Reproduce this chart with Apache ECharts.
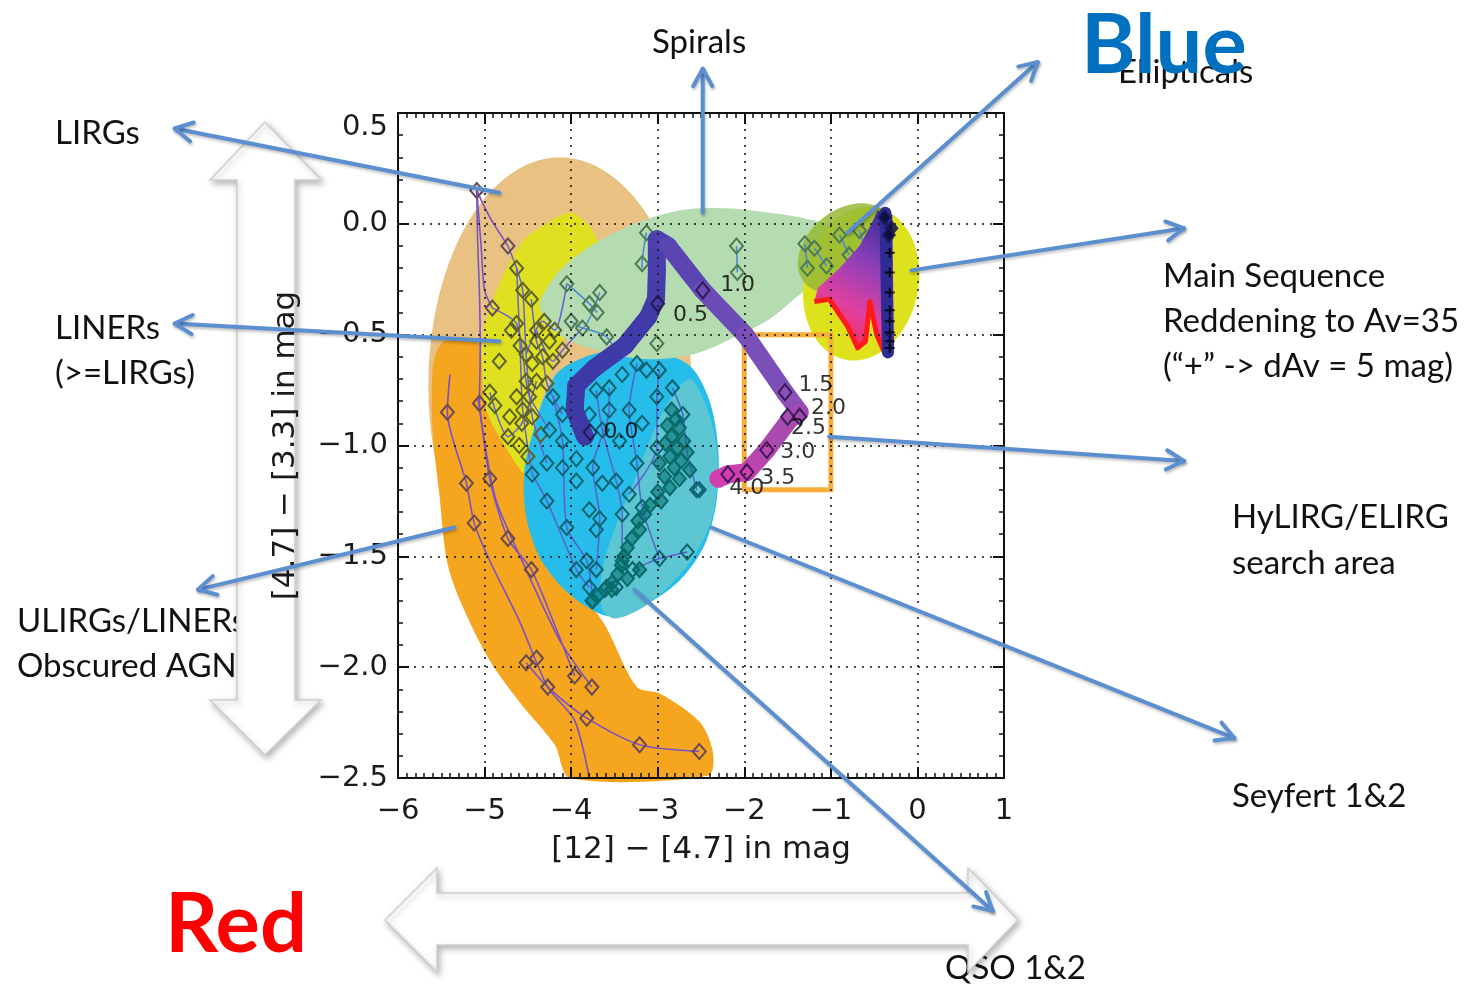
<!DOCTYPE html>
<html>
<head>
<meta charset="utf-8">
<title>WISE colour–colour diagram</title>
<script src="https://cdn.jsdelivr.net/npm/echarts@6.0.0/dist/echarts.min.js"></script>
<style>
html,body{margin:0;padding:0;background:#ffffff;}
#chart{width:1474px;height:984px;}
</style>
</head>
<body>
<div id="chart"></div>
<script>
// ---- axes: x = [12]-[4.7], y = [4.7]-[3.3] (mag) ----
const xRange = [-6, 1];
const yRange = [-2.5, 0.5];
const xStep = 1;
const yStep = 0.5;

// ---- population zones ----
const lirgEllipse = [-4.13, -0.73, 1.52, 1.03];          // centre x, centre y, half-width, half-height
const ulirgRegion = [[-5.34,-0.51],[-5.07,-0.54],[-4.98,-0.84],[-4.52,-1.13],[-4.25,-1.38],[-3.90,-1.65],[-3.61,-1.81],[-3.24,-2.09],[-2.97,-2.12],[-2.51,-2.25],[-2.36,-2.39],[-2.42,-2.49],[-4.01,-2.50],[-4.19,-2.35],[-4.59,-2.16],[-4.94,-1.97],[-5.25,-1.73],[-5.43,-1.53],[-5.52,-1.23],[-5.60,-0.93],[-5.60,-0.66],[-5.52,-0.55]];
const linerRegion = [[-4.00,0.05],[-3.79,-0.01],[-3.67,-0.12],[-3.79,-0.30],[-4.13,-0.55],[-4.31,-0.75],[-4.45,-0.98],[-4.52,-1.13],[-4.77,-1.00],[-4.98,-0.84],[-5.03,-0.66],[-5.01,-0.48],[-4.83,-0.27],[-4.56,-0.08],[-4.25,0.01]];
const seyfertRegion = [[-4.13,-0.66],[-3.67,-0.58],[-3.09,-0.57],[-2.63,-0.64],[-2.40,-0.80],[-2.30,-1.02],[-2.32,-1.25],[-2.46,-1.45],[-2.75,-1.61],[-3.15,-1.72],[-3.56,-1.77],[-3.85,-1.72],[-4.13,-1.63],[-4.37,-1.50],[-4.52,-1.32],[-4.54,-1.11],[-4.42,-0.91],[-4.31,-0.78]];
const qsoRegion = [[-2.63,-0.70],[-2.46,-0.80],[-2.33,-0.98],[-2.31,-1.16],[-2.38,-1.34],[-2.58,-1.50],[-2.86,-1.63],[-3.21,-1.74],[-3.50,-1.78],[-3.64,-1.74],[-3.64,-1.56],[-3.50,-1.38],[-3.27,-1.16],[-3.04,-0.93],[-2.84,-0.78]];
const spiralRegion = [[-4.36,-0.38],[-4.28,-0.29],[-4.08,-0.19],[-3.73,-0.09],[-3.27,0.00],[-2.75,0.06],[-2.23,0.07],[-1.71,0.05],[-1.25,0.02],[-0.92,-0.02],[-0.84,-0.10],[-0.96,-0.20],[-1.30,-0.30],[-1.71,-0.43],[-2.06,-0.50],[-2.52,-0.58],[-2.98,-0.61],[-3.38,-0.60],[-3.79,-0.56],[-4.13,-0.50]];
const ellipticalEllipse = [-0.65, -0.27, 0.66, 0.35];
const ellipticalCore = [-0.83, -0.11, 0.62, 0.17];
const reddeningFan = [[-0.46,0.06],[-0.29,0.04],[-0.27,-0.58],[-0.38,-0.58],[-0.47,-0.50],[-0.55,-0.35],[-0.60,-0.53],[-0.69,-0.56],[-0.81,-0.46],[-1.02,-0.34],[-1.19,-0.35],[-1.15,-0.29],[-0.90,-0.20],[-0.67,-0.10],[-0.53,0.00]];
const reddeningEdge = [[-1.19,-0.35],[-1.02,-0.34],[-0.81,-0.46],[-0.69,-0.56],[-0.60,-0.53],[-0.55,-0.35],[-0.47,-0.50],[-0.38,-0.58]];
const mainSequence = [[-0.37,0.05],[-0.34,-0.58]];
const reddeningSteps = [[-0.32,-0.13],[-0.32,-0.22],[-0.32,-0.31],[-0.32,-0.39],[-0.32,-0.44],[-0.32,-0.49],[-0.32,-0.53],[-0.32,-0.56]];
const searchBox = [[-2, -0.5], [-1, -1.2]];

// ---- template tracks and their diamonds ----
const ulirgTracks = [
  [[-5.40,-0.68],[-5.43,-0.85],[-5.21,-1.17],[-5.12,-1.35],[-4.94,-1.52],[-4.60,-1.79],[-4.27,-2.09],[-3.96,-2.24],[-3.79,-2.50]],
  [[-5.06,-0.81],[-4.94,-1.15],[-4.73,-1.42],[-4.46,-1.56],[-4.19,-1.81],[-3.96,-2.04]],
  [[-5.08,-0.78],[-4.88,-1.23],[-4.59,-1.50],[-4.13,-1.88],[-3.76,-2.09]],
  [[-4.52,-1.98],[-4.27,-2.09],[-3.82,-2.23],[-3.21,-2.35],[-2.52,-2.38]],
  [[-5.09,0.15],[-5.08,-0.08],[-5.06,-0.30],[-5.05,-0.55],[-5.06,-0.81]],
  [[-5.09,0.15],[-4.94,0.03],[-4.73,-0.10]],
  [[-5.09,0.15],[-5.04,-0.10],[-5.00,-0.30],[-4.91,-0.38]]
];
const ulirgDiamonds = [[-5.43,-0.85],[-5.21,-1.17],[-5.12,-1.35],[-5.06,-0.81],[-4.94,-1.15],[-4.73,-1.42],[-4.46,-1.56],[-4.52,-1.98],[-4.40,-1.96],[-4.27,-2.09],[-3.96,-2.04],[-3.76,-2.09],[-3.82,-2.23],[-3.21,-2.35],[-2.52,-2.38],[-5.09,0.15],[-4.73,-0.10],[-4.91,-0.38]];
const linerTracks = [
  [[-4.73,-0.10],[-4.63,-0.20],[-4.56,-0.30],[-4.52,-0.59],[-4.45,-0.87],[-4.28,-1.08]],
  [[-4.91,-0.38],[-4.63,-0.45],[-4.52,-0.71],[-4.48,-0.78],[-4.25,-0.93]],
  [[-4.63,-0.20],[-4.59,-0.55],[-4.56,-0.84],[-4.45,-1.13]],
  [[-4.46,-0.34],[-4.40,-0.53],[-4.33,-0.60],[-4.28,-0.72],[-4.10,-0.86]],
  [[-4.40,-0.48],[-4.21,-0.62],[-4.10,-0.57],[-3.87,-0.47]],
  [[-4.94,-0.76],[-4.73,-0.96],[-4.57,-0.90],[-4.40,-0.71]],
  [[-4.52,-0.59],[-4.33,-0.44],[-4.19,-0.48],[-4.05,-0.27]]
];
const linerDiamonds = [[-4.94,-0.76],[-4.88,-0.82],[-4.73,-0.96],[-4.57,-0.90],[-4.56,-0.84],[-4.48,-0.78],[-4.52,-0.71],[-4.45,-0.63],[-4.33,-0.60],[-4.21,-0.62],[-4.52,-0.59],[-4.10,-0.57],[-4.40,-0.71],[-4.28,-0.72],[-4.63,-0.78],[-4.71,-0.87],[-4.45,-0.87],[-4.40,-0.53],[-4.25,-0.53],[-4.63,-0.20],[-4.56,-0.30],[-4.46,-0.34],[-4.63,-0.45],[-4.40,-0.48],[-4.69,-0.48],[-4.31,-0.44],[-4.19,-0.48],[-4.59,-0.55],[-4.83,-0.62],[-4.60,-1.00],[-4.35,-0.95],[-4.50,-1.05]];
const spiralTracks = [
  [[-4.05,-0.27],[-3.79,-0.36],[-3.70,-0.40]],
  [[-3.67,-0.31],[-3.87,-0.47],[-4.00,-0.44]],
  [[-3.13,-0.04],[-3.18,-0.18],[-3.18,-0.20]],
  [[-2.09,-0.10],[-2.08,-0.22]],
  [[-1.30,-0.09],[-1.27,-0.20]],
  [[-1.19,-0.11],[-1.05,-0.19]],
  [[-3.87,-0.47],[-3.59,-0.51],[-3.44,-0.62]],
  [[-0.90,-0.05],[-0.79,-0.14]],
  [[-0.67,-0.03],[-0.58,-0.14]]
];
const spiralDiamonds = [[-4.05,-0.27],[-3.79,-0.36],[-3.70,-0.40],[-3.67,-0.31],[-3.87,-0.47],[-4.00,-0.44],[-3.13,-0.04],[-3.18,-0.18],[-2.09,-0.10],[-2.08,-0.22],[-1.30,-0.09],[-1.27,-0.20],[-1.19,-0.11],[-1.05,-0.19],[-3.59,-0.51],[-3.01,-0.54],[-0.90,-0.05],[-0.79,-0.14],[-0.67,-0.03],[-0.58,-0.14]];
const ellipticalMarks = [[-0.38,0.03],[-0.30,-0.02],[-0.33,-0.05]];
const seyfertTracks = [
  [[-4.21,-0.78],[-4.10,-0.98],[-4.05,-1.37],[-3.82,-1.52],[-3.75,-1.70]],
  [[-3.71,-0.75],[-3.64,-0.93],[-3.48,-1.16],[-3.41,-1.31],[-3.41,-1.52]],
  [[-3.24,-0.63],[-3.33,-0.84],[-3.24,-1.08],[-3.18,-1.28],[-2.98,-1.51]],
  [[-2.83,-0.74],[-2.71,-0.86],[-2.66,-1.03],[-2.55,-1.20]],
  [[-4.45,-1.13],[-4.28,-1.25],[-3.94,-1.56],[-3.79,-1.64]],
  [[-3.56,-0.74],[-3.56,-0.84],[-3.75,-1.10],[-3.67,-1.33],[-3.71,-1.56]],
  [[-2.98,-0.66],[-3.01,-0.78],[-3.01,-1.01],[-3.33,-1.22]],
  [[-3.29,-1.56],[-2.98,-1.51],[-2.66,-1.48]]
];
const seyfertDiamonds = [[-4.21,-0.78],[-4.10,-0.86],[-4.25,-0.93],[-4.10,-0.98],[-4.28,-1.08],[-4.45,-1.13],[-4.10,-1.10],[-3.94,-1.16],[-4.28,-1.25],[-4.05,-1.37],[-3.79,-1.29],[-3.79,-0.86],[-3.71,-0.75],[-3.56,-0.74],[-3.41,-0.68],[-3.24,-0.63],[-3.13,-0.66],[-2.98,-0.66],[-2.83,-0.74],[-3.01,-0.78],[-3.33,-0.84],[-3.56,-0.84],[-3.64,-0.93],[-3.44,-0.98],[-3.24,-1.08],[-3.64,-1.17],[-3.75,-1.10],[-3.48,-1.16],[-3.41,-1.31],[-3.67,-1.33],[-3.71,-1.38],[-3.33,-1.22],[-3.18,-1.28],[-2.55,-1.20],[-3.01,-1.01],[-2.71,-0.86],[-3.18,-0.90],[-3.94,-1.06],[-3.82,-1.52],[-3.71,-1.56],[-3.41,-1.52],[-2.98,-1.51],[-2.66,-1.48],[-3.94,-1.56],[-3.79,-1.64],[-3.75,-1.70],[-3.59,-1.64],[-3.48,-1.64],[-3.29,-1.56],[-2.52,-1.20]];
const qsoDiamonds = [[-2.84,-0.84],[-2.79,-0.88],[-2.89,-0.91],[-2.75,-0.92],[-2.84,-0.96],[-2.70,-0.98],[-2.91,-0.99],[-2.77,-1.01],[-2.66,-1.03],[-2.86,-1.05],[-2.73,-1.07],[-2.98,-1.08],[-2.81,-1.10],[-2.63,-1.11],[-2.92,-1.14],[-2.75,-1.15],[-2.86,-1.19],[-3.00,-1.21],[-2.96,-1.25],[-3.09,-1.27],[-3.15,-1.31],[-3.23,-1.34],[-3.21,-1.38],[-3.30,-1.42],[-3.35,-1.46],[-3.39,-1.50],[-3.42,-1.54],[-3.46,-1.58],[-3.53,-1.62],[-3.61,-1.65],[-3.70,-1.68],[-3.76,-1.70],[-3.53,-1.65],[-3.35,-1.60],[-3.21,-1.56]];

// ---- redshift track of the composite template ----
const trackPath = [[-3.84,-0.96],[-3.96,-0.84],[-3.94,-0.73],[-3.73,-0.65],[-3.38,-0.55],[-3.11,-0.42],[-3.02,-0.34],[-3.01,-0.21],[-3.01,-0.07],[-2.88,-0.10],[-2.48,-0.30],[-1.99,-0.50],[-1.53,-0.76],[-1.36,-0.85],[-1.47,-0.88],[-1.74,-1.02],[-1.97,-1.12],[-2.19,-1.13],[-2.30,-1.15]];
const trackColors = ['#3d3aa6','#3d3aa6','#3d3aa6','#3e3aa7','#403ba8','#423ca9','#463dab','#4a3ead','#4e40af','#5b45b2','#6b4bb6','#7a4fb8','#8c4fb6','#a04ab2','#a84aae','#b845b0','#cc40b0','#d23eaf'];
const redshiftPoints = [[-3.78,-0.94],[-3.00,-0.36],[-2.48,-0.30],[-1.53,-0.76],[-1.36,-0.87],[-1.50,-0.87],[-1.74,-1.02],[-1.97,-1.12],[-2.19,-1.13]];
const redshiftLabels = ['0.0','0.5','1.0','1.5','2.0','2.5','3.0','3.5','4.0'];
const redshiftLabelShift = [[4,0],[6,12],[8,-5],[4,-7],[2,-8],[-6,12],[4,2],[4,6],[-8,14]];

// ---- call-out pointers: from zone (x1,y1) to caption (x2,y2) ----
const pointers = [
  [-4.83, 0.14, -8.58, 0.43],
  [-4.83, -0.53, -8.58, -0.45],
  [-5.35, -1.37, -8.31, -1.65],
  [-2.48, 0.05, -2.48, 0.70],
  [-0.81, -0.04, 1.39, 0.73],
  [-0.07, -0.21, 3.08, -0.02],
  [-1.02, -0.96, 3.08, -1.07],
  [-2.38, -1.37, 3.66, -2.32],
  [-3.27, -1.65, 0.87, -3.10]
];

// ---------------------------------------------------------------
function polygonSeries(verts, style, z, smooth) {
  return {
    type: 'custom', coordinateSystem: 'cartesian2d', silent: true, z: z, clip: false,
    data: [verts[0]],
    renderItem: function (params, api) {
      return { type: 'polygon', shape: { points: verts.map(v => api.coord(v)), smooth: smooth || 0 }, style: style };
    }
  };
}
function ellipseSeries(e, tiltDeg, style, z) {
  return {
    type: 'custom', coordinateSystem: 'cartesian2d', silent: true, z: z, clip: false,
    data: [[e[0], e[1]]],
    renderItem: function (params, api) {
      const c = api.coord([e[0], e[1]]);
      const rx = api.size([e[2], 0])[0];
      const ry = api.size([0, e[3]])[1];
      const t = tiltDeg * Math.PI / 180;
      const pts = [];
      for (let k = 0; k < 90; k++) {
        const a = k / 90 * 2 * Math.PI;
        const ex = rx * Math.cos(a), ey = ry * Math.sin(a);
        pts.push([c[0] + ex * Math.cos(t) + ey * Math.sin(t), c[1] - ex * Math.sin(t) + ey * Math.cos(t)]);
      }
      return { type: 'polygon', shape: { points: pts }, style: style };
    }
  };
}
function polylineSeries(verts, style, z) {
  return {
    type: 'custom', coordinateSystem: 'cartesian2d', silent: true, z: z, clip: false,
    data: [verts[0]],
    renderItem: function (params, api) {
      return { type: 'polyline', shape: { points: verts.map(v => api.coord(v)) }, style: style };
    }
  };
}
function trackSeries(tracks, color, width, z) {
  return tracks.map(t => ({
    type: 'line', data: t, symbol: 'none', smooth: 0.25, silent: true, z: z,
    lineStyle: { color: color, width: width }
  }));
}
function diamondSeries(pts, border, fill, size, z) {
  return {
    type: 'scatter', data: pts, symbol: 'diamond', symbolSize: size, silent: true, z: z,
    itemStyle: { color: fill, borderColor: border, borderWidth: 2, opacity: 1 }
  };
}

const axisFont = 'DejaVu Sans';
function xFmt(v) { return (v < 0 ? '\u2212' : '') + Math.abs(v); }
function yFmt(v) { return (v < 0 ? '\u2212' : '') + Math.abs(v).toFixed(1); }

function frameAxis(isX, pos, primary, range, step, minor) {
  const ax = {
    type: 'value', min: range[0], max: range[1], interval: step, position: pos, z: 30,
    axisLine: { show: true, onZero: false, lineStyle: { color: '#111', width: 2 } },
    axisTick: { show: true, inside: true, length: 11, lineStyle: { color: '#111', width: 2 } },
    minorTick: { show: true, splitNumber: minor, length: 5, lineStyle: { color: '#111', width: 1.5 } },
    splitLine: { show: primary, lineStyle: { color: 'rgba(25,25,25,0.8)', width: 2, type: [2, 6] } },
    axisLabel: { show: primary, fontSize: 29, fontFamily: axisFont, color: '#1a1a1a',
                 margin: isX ? 19 : 10, formatter: isX ? xFmt : yFmt }
  };
  if (primary && !isX) ax.axisLabel.verticalAlignMaxLabel = 'top';
  if (primary) {
    ax.name = isX ? '[12] \u2212 [4.7] in mag' : '[4.7] \u2212 [3.3] in mag';
    ax.nameLocation = 'middle';
    ax.nameGap = isX ? 56 : 97;
    ax.nameTextStyle = { fontSize: 31, fontFamily: axisFont, color: '#1a1a1a' };
  }
  return ax;
}

const chart = echarts.init(document.getElementById('chart'), null, { renderer: 'canvas' });

const series = [];
series.push(ellipseSeries(lirgEllipse, 0, { fill: '#e8c183' }, 2));
series.push(polygonSeries(ulirgRegion, { fill: '#f5a51e' }, 3, 0.3));
series.push(polygonSeries(linerRegion, { fill: '#dfe01f' }, 4, 0.3));
series.push(polygonSeries(seyfertRegion, { fill: '#27bdea' }, 5, 0.3));
series.push(polygonSeries(qsoRegion, { fill: '#5cc6d3' }, 6, 0.3));
series.push(polygonSeries(spiralRegion, { fill: '#b5dcb0' }, 7, 0.35));
series.push(ellipseSeries(ellipticalEllipse, -12, { fill: '#dde21d' }, 8));
series.push(ellipseSeries(ellipticalCore, 40, { fill: 'rgba(150,185,55,0.85)' }, 9));
trackSeries(ulirgTracks, '#7a52c4', 1.6, 10).forEach(s => series.push(s));
trackSeries(linerTracks, '#6a62cc', 1.5, 10).forEach(s => series.push(s));
trackSeries(seyfertTracks, '#5a5fcc', 1.5, 10).forEach(s => series.push(s));
trackSeries(spiralTracks, '#4a86d8', 1.5, 10).forEach(s => series.push(s));
series.push(diamondSeries(ulirgDiamonds, '#6a4a52', 'rgba(0,0,0,0)', [13, 15], 11));
series.push(diamondSeries(linerDiamonds, '#5c6228', 'rgba(0,0,0,0)', [13, 15], 11));
series.push(diamondSeries(spiralDiamonds, '#4d7a55', 'rgba(0,0,0,0)', [13, 15], 11));
series.push(diamondSeries(seyfertDiamonds, '#0c6470', 'rgba(0,0,0,0)', [13, 15], 11));
series.push(diamondSeries(qsoDiamonds, '#0a6a6a', 'rgba(0,110,110,0.55)', [13, 15], 12));
series.push(polygonSeries(reddeningFan, {
  fill: new echarts.graphic.LinearGradient(1, 0, 0, 1, [
    { offset: 0, color: '#2a2a95' }, { offset: 0.35, color: '#8a3fb8' },
    { offset: 0.65, color: '#e040a0' }, { offset: 1, color: '#ff2030' }])
}, 13, 0));
series.push(polylineSeries(reddeningEdge, { stroke: '#ff1a1a', lineWidth: 5, fill: null, lineJoin: 'round' }, 14));
series.push(polylineSeries(mainSequence, { stroke: '#2e2b93', lineWidth: 12, fill: null, lineCap: 'round' }, 14));
series.push({
  type: 'scatter', data: reddeningSteps, silent: true, z: 15, symbolSize: 10,
  symbol: 'path://M4,0H6V4H10V6H6V10H4V6H0V4H4Z', itemStyle: { color: '#000' }
});
series.push({
  type: 'scatter', data: ellipticalMarks, silent: true, z: 15, symbol: 'diamond', symbolSize: [12, 14],
  itemStyle: { color: '#0a0a30', borderColor: '#1a1a60', borderWidth: 2 }
});
// HyLIRG/ELIRG search box
series.push({
  type: 'custom', coordinateSystem: 'cartesian2d', silent: true, z: 16, clip: false,
  data: [searchBox[0]],
  renderItem: function (params, api) {
    const a = api.coord(searchBox[0]), b = api.coord(searchBox[1]);
    return { type: 'rect', shape: { x: a[0], y: a[1], width: b[0] - a[0], height: b[1] - a[1] },
             style: { fill: null, stroke: '#f6ad3a', lineWidth: 5 } };
  }
});
// redshift track
series.push({
  type: 'custom', coordinateSystem: 'cartesian2d', silent: true, z: 17, clip: false,
  data: trackPath.slice(0, -1),
  renderItem: function (params, api) {
    const i = params.dataIndex;
    const p1 = api.coord(trackPath[i]), p2 = api.coord(trackPath[i + 1]);
    return { type: 'line', shape: { x1: p1[0], y1: p1[1], x2: p2[0], y2: p2[1] },
             style: { stroke: trackColors[i], lineWidth: 18, lineCap: 'round' } };
  }
});
series.push({
  type: 'scatter', silent: true, z: 18, symbol: 'diamond', symbolSize: [13, 16],
  itemStyle: { color: 'rgba(0,0,0,0)', borderColor: '#1c1240', borderWidth: 2 },
  data: redshiftPoints.map((p, i) => ({
    value: p,
    label: { show: true, formatter: redshiftLabels[i], position: 'right', distance: 2,
             offset: redshiftLabelShift[i], fontSize: 22, fontFamily: axisFont, color: '#000' }
  }))
});
// call-out pointers
series.push({
  type: 'custom', coordinateSystem: 'cartesian2d', silent: true, z: 40, clip: false,
  data: pointers, encode: { x: [0, 2], y: [1, 3] },
  renderItem: function (params, api) {
    const p1 = api.coord([api.value(0), api.value(1)]);
    const p2 = api.coord([api.value(2), api.value(3)]);
    const ang = Math.atan2(p2[1] - p1[1], p2[0] - p1[0]);
    const L = 20, w = 0.5;
    const h1 = [p2[0] - L * Math.cos(ang - w), p2[1] - L * Math.sin(ang - w)];
    const h2 = [p2[0] - L * Math.cos(ang + w), p2[1] - L * Math.sin(ang + w)];
    const st = { stroke: '#5b8fd0', lineWidth: 4, fill: null, lineCap: 'round', lineJoin: 'round',
                 shadowBlur: 3, shadowColor: 'rgba(0,0,0,0.25)', shadowOffsetX: 1, shadowOffsetY: 2 };
    return { type: 'group', children: [
      { type: 'line', shape: { x1: p1[0], y1: p1[1], x2: p2[0], y2: p2[1] }, style: st },
      { type: 'polyline', shape: { points: [h1, p2, h2] }, style: st }
    ] };
  }
});

function caption(text, x, y, size, z, extra) {
  return {
    type: 'text', x: x, y: y, z: z || 26, silent: true,
    style: { text: text, font: (extra && extra.weight ? extra.weight + ' ' : '') + size + 'px Lato',
             fill: (extra && extra.fill) || '#111', verticalAlign: 'middle', align: 'left' }
  };
}
function blockArrow(points) {
  return { type: 'polygon', z: 27, silent: true, shape: { points: points },
           style: { fill: '#ffffff', stroke: '#cfcfcf', lineWidth: 1.5,
                    shadowBlur: 6, shadowColor: 'rgba(0,0,0,0.28)', shadowOffsetX: 2, shadowOffsetY: 3 } };
}

const capSize = 33;
const graphics = [
  caption('Spirals', 652, 42, capSize),
  caption('Ellipticals', 1118, 72, capSize),
  caption('Blue', 1081, 46, 83, 28, { weight: 'bold', fill: '#0070c0' }),
  caption('LIRGs', 55, 133, capSize),
  caption('LINERs', 55, 328, capSize),
  caption('(>=LIRGs)', 55, 373, capSize),
  caption('ULIRGs/LINERs', 17, 621, capSize),
  caption('Obscured AGN', 17, 666, capSize),
  caption('Main Sequence', 1163, 276, capSize),
  caption('Reddening to Av=35', 1163, 321, capSize),
  caption('(\u201c+\u201d -> dAv = 5 mag)', 1163, 366, capSize),
  caption('HyLIRG/ELIRG', 1232, 517, capSize),
  caption('search area', 1232, 563, capSize),
  caption('Seyfert 1&2', 1232, 796, capSize),
  caption('QSO 1&2', 945, 968, capSize),
  caption('Red', 165, 925, 83, 28, { weight: 'bold', fill: '#ff0000' }),
  blockArrow([[265,122],[321,180],[295,180],[295,700],[321,700],[265,755],[210,700],[237,700],[237,180],[210,180]]),
  blockArrow([[385,920],[437,868],[437,893],[968,893],[968,868],[1018,920],[968,972],[968,945],[437,945],[437,972]])
];

chart.setOption({
  animation: false,
  backgroundColor: '#ffffff',
  grid: { left: 398, top: 113, width: 606, height: 665, containLabel: false },
  xAxis: [frameAxis(true, 'bottom', true, xRange, xStep, 10), frameAxis(true, 'top', false, xRange, xStep, 10)],
  yAxis: [frameAxis(false, 'left', true, yRange, yStep, 5), frameAxis(false, 'right', false, yRange, yStep, 5)],
  graphic: { elements: graphics },
  series: series
});
</script>
</body>
</html>
